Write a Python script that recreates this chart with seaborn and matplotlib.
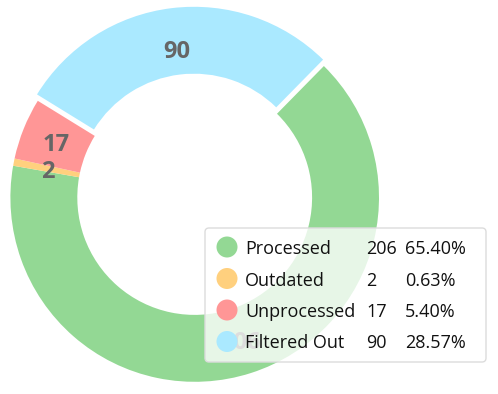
import matplotlib
matplotlib.use("Agg")
import matplotlib.pyplot as plt
from matplotlib.patches import FancyBboxPatch, Circle
import numpy as np
import seaborn as sns

categories = ["Processed", "Outdated", "Unprocessed", "Filtered Out"]
values = [206, 2, 17, 90]
colors = ["#93D894", "#FFD07E", "#FF9696", "#AAE9FF"]

sns.set_theme(style="white")
plt.rcParams['font.family'] = ['Open Sans', 'DejaVu Sans']

W, H = 498, 394
fig = plt.figure(figsize=(W / 100, H / 100), dpi=100)

# donut axes: center (194.7, 197.5) px, radius 184.3 px
cx, cy, R = 194.7, 197.5, 184.3
lim = 1.1
size = 2 * lim * R
ax = fig.add_axes([(cx - size / 2) / W, (H - cy - size / 2) / H, size / W, size / H])

palette = sns.color_palette(colors)
explode = [0, 0, 0, 0.035]
wedges, _ = ax.pie(values, colors=palette, startangle=45.5, counterclock=False,
                   radius=1.0, explode=explode,
                   wedgeprops=dict(width=0.363, linewidth=0))
ax.set_xlim(-lim, lim)
ax.set_ylim(-lim, lim)
ax.set_aspect("equal")
ax.axis("off")

for w, v in zip(wedges, values):
    ang = np.deg2rad((w.theta1 + w.theta2) / 2)
    r = 0.81
    ax.text(r * np.cos(ang), r * np.sin(ang), str(v), ha="center", va="center_baseline",
            fontsize=17, fontweight="bold", color="#666666", zorder=3)

# legend overlay in pixel coordinates
lax = fig.add_axes([0, 0, 1, 1])
lax.set_xlim(0, W)
lax.set_ylim(H, 0)
lax.axis("off")
lax.patch.set_alpha(0)
lax.set_zorder(5)

box = FancyBboxPatch((205, 228), 281, 134, boxstyle="round,pad=0,rounding_size=4",
                     facecolor=(1, 1, 1, 0.78), edgecolor="#dcdcdc", linewidth=1)
lax.add_patch(box)

total = sum(values)
row_y = [247, 278.5, 310, 341.5]
for i, (name, v, c) in enumerate(zip(categories, values, colors)):
    y = row_y[i]
    lax.add_patch(Circle((227, y), 10.5, facecolor=c, edgecolor="none"))
    lax.text(245, y, name, ha="left", va="center_baseline", fontsize=13, color="#111111")
    lax.text(366, y, str(v), ha="left", va="center_baseline", fontsize=13, color="#111111")
    lax.text(405, y, f"{v / total * 100:.2f}%", ha="left", va="center_baseline",
             fontsize=13, color="#111111")

fig.savefig("out.png", dpi=100)
